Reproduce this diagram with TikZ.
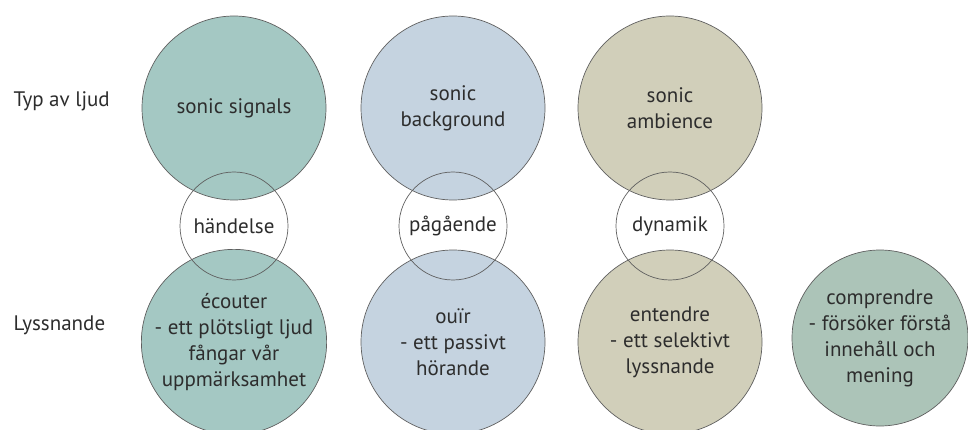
\documentclass[tikz,border=0pt]{standalone}
\usepackage{fontspec}
\setmainfont{PT Sans}

\definecolor{signalsfill}{RGB}{164,200,195}
\definecolor{backgrfill}{RGB}{197,211,224}
\definecolor{ambifill}{RGB}{209,207,186}
\definecolor{comprfill}{RGB}{172,196,184}
\definecolor{ringgray}{RGB}{95,95,95}
\definecolor{textgray}{RGB}{45,45,45}

\tikzset{
  bigring/.style={circle,draw=ringgray,line width=0.7pt,inner sep=0pt,
    minimum size=184pt,align=center,text=textgray,
    font=\fontsize{21}{26}\selectfont},
  smallring/.style={circle,draw=ringgray,line width=0.7pt,inner sep=0pt,
    minimum size=108pt,align=center,text=textgray,
    font=\fontsize{21}{26}\selectfont},
  rowlabel/.style={anchor=west,text=textgray,font=\fontsize{21}{26}\selectfont}
}

\begin{document}
\begin{tikzpicture}[x=1pt,y=-1pt]
  \useasboundingbox (0,0) rectangle (968,430);
  \pgfmathsetmacro\colA{234}
  \pgfmathsetmacro\colB{453}
  \pgfmathsetmacro\colC{670}
  \pgfmathsetmacro\rowtop{108}
  \pgfmathsetmacro\rowmid{226}
  \pgfmathsetmacro\rowbot{342}

% row labels at left
  \node[rowlabel] (typ) at (10,101) {Typ av ljud};
  \node[rowlabel] (lyss) at (10,325) {Lyssnande};

% upper row
  \node[bigring,fill=signalsfill] (signals) at (\colA,\rowtop) {sonic signals};
  \node[bigring,fill=backgrfill] (backgr) at (\colB,\rowtop) {sonic\\background};
  \node[bigring,fill=ambifill] (ambience) at (\colC,\rowtop) {sonic\\ambience};

% lower row
  \node[bigring,fill=signalsfill] (ecouter) at (\colA,\rowbot)
       {écouter\\- ett plötsligt ljud\\fångar vår\\uppmärksamhet};
  \node[bigring,fill=backgrfill] (ouir) at (\colB,\rowbot)
       {ouïr\\- ett passivt\\hörande};
  \node[bigring,fill=ambifill] (entendre) at (\colC,\rowbot)
       {entendre\\- ett selektivt\\lyssnande};
  \node[bigring,fill=comprfill,minimum size=176pt] (comprendre) at (880,338)
       {comprendre\\- försöker förstå\\innehåll och\\mening};

% overlapping rings in between
  \node[smallring] (handelse) at (\colA,\rowmid) {händelse};
  \node[smallring] (pagaende) at (\colB,\rowmid) {pågående};
  \node[smallring] (dynamik) at (\colC,\rowmid) {dynamik};
\end{tikzpicture}
\end{document}
